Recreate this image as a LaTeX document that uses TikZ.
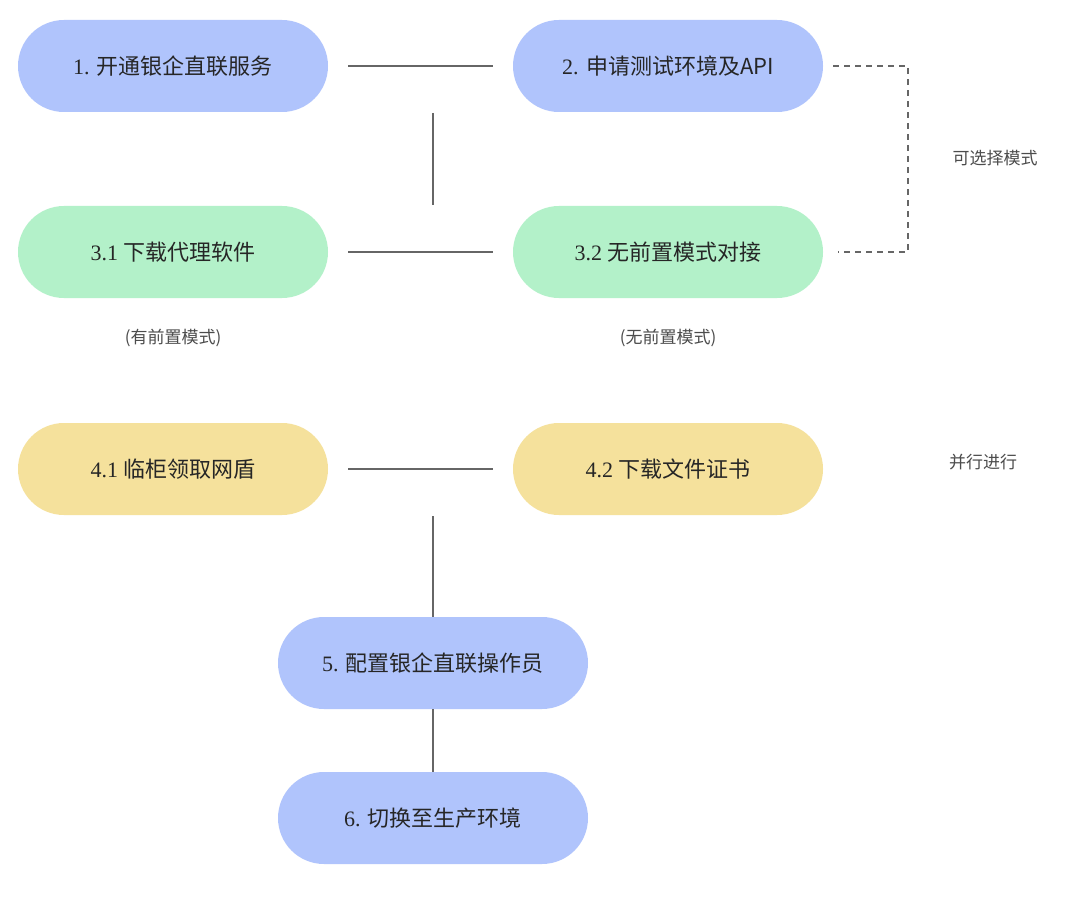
\documentclass[tikz,border=0pt]{standalone}
\usepackage{fontspec}
\setmainfont{Liberation Serif}
\newfontfamily\cjk{Noto Sans CJK SC}
\usetikzlibrary{positioning}
\definecolor{stepblue}{HTML}{B0C4FC}
\definecolor{stepgreen}{HTML}{B3F1C9}
\definecolor{stepyellow}{HTML}{F5E19C}
\definecolor{linegray}{HTML}{666666}
\begin{document}
\begin{tikzpicture}[x=1pt,y=-1pt,
    pill/.style={rounded corners=46pt,minimum width=310pt,minimum height=92pt,
        inner sep=0pt,font=\fontsize{22}{26}\selectfont,text=black!85},
    link/.style={linegray,line width=2.6pt,shorten >=20pt,shorten <=20pt},
    note/.style={font=\cjk\fontsize{17}{20}\selectfont,text=black!70}]
    \useasboundingbox[fill=white] (0,0) rectangle (1083,901);

    % Schritte
    \node[pill,fill=stepblue] (s1) at (173,66) {1. {\cjk 开通银企直联服务}};
    \node[pill,fill=stepblue] (s2) at (668,66) {2. {\cjk 申请测试环境及API}};
    \node[pill,fill=stepgreen] (s31) at (173,252) {3.1 {\cjk 下载代理软件}};
    \node[pill,fill=stepgreen] (s32) at (668,252) {3.2 {\cjk 无前置模式对接}};
    \node[pill,fill=stepyellow] (s41) at (173,469) {4.1 {\cjk 临柜领取网盾}};
    \node[pill,fill=stepyellow] (s42) at (668,469) {4.2 {\cjk 下载文件证书}};
    \node[pill,fill=stepblue] (s5) at (433,663) {5. {\cjk 配置银企直联操作员}};
    \node[pill,fill=stepblue] (s6) at (433,818) {6. {\cjk 切换至生产环境}};

    % Hinweise
    \node[note] (n31) at (173,338) {({\cjk 有前置模式})};
    \node[note] (n32) at (668,338) {({\cjk 无前置模式})};
    \node[note] (opt) at (995,158) {可选择模式};
    \node[note] (par) at (983,462) {并行进行};

    % Verbindungen
    \coordinate (v1a) at (433,113);
    \coordinate (v1b) at (433,205);
    \coordinate (v4) at (433,516);
    \draw[link] (s1) -- (s2);
    \draw[link,shorten >=0pt,shorten <=0pt] (v1a) -- (v1b);
    \draw[link] (s31) -- (s32);
    \draw[link] (s41) -- (s42);
    \draw[link,shorten >=0pt,shorten <=0pt] (v4) -- (s5);
    \draw[link,shorten >=0pt,shorten <=0pt] (s5) -- (s6);
    \draw[linegray,line width=2.6pt,dash pattern=on 6pt off 5pt]
        ([xshift=10pt]s2.east) -| (908,252) -- ([xshift=15pt]s32.east);
\end{tikzpicture}
\end{document}
